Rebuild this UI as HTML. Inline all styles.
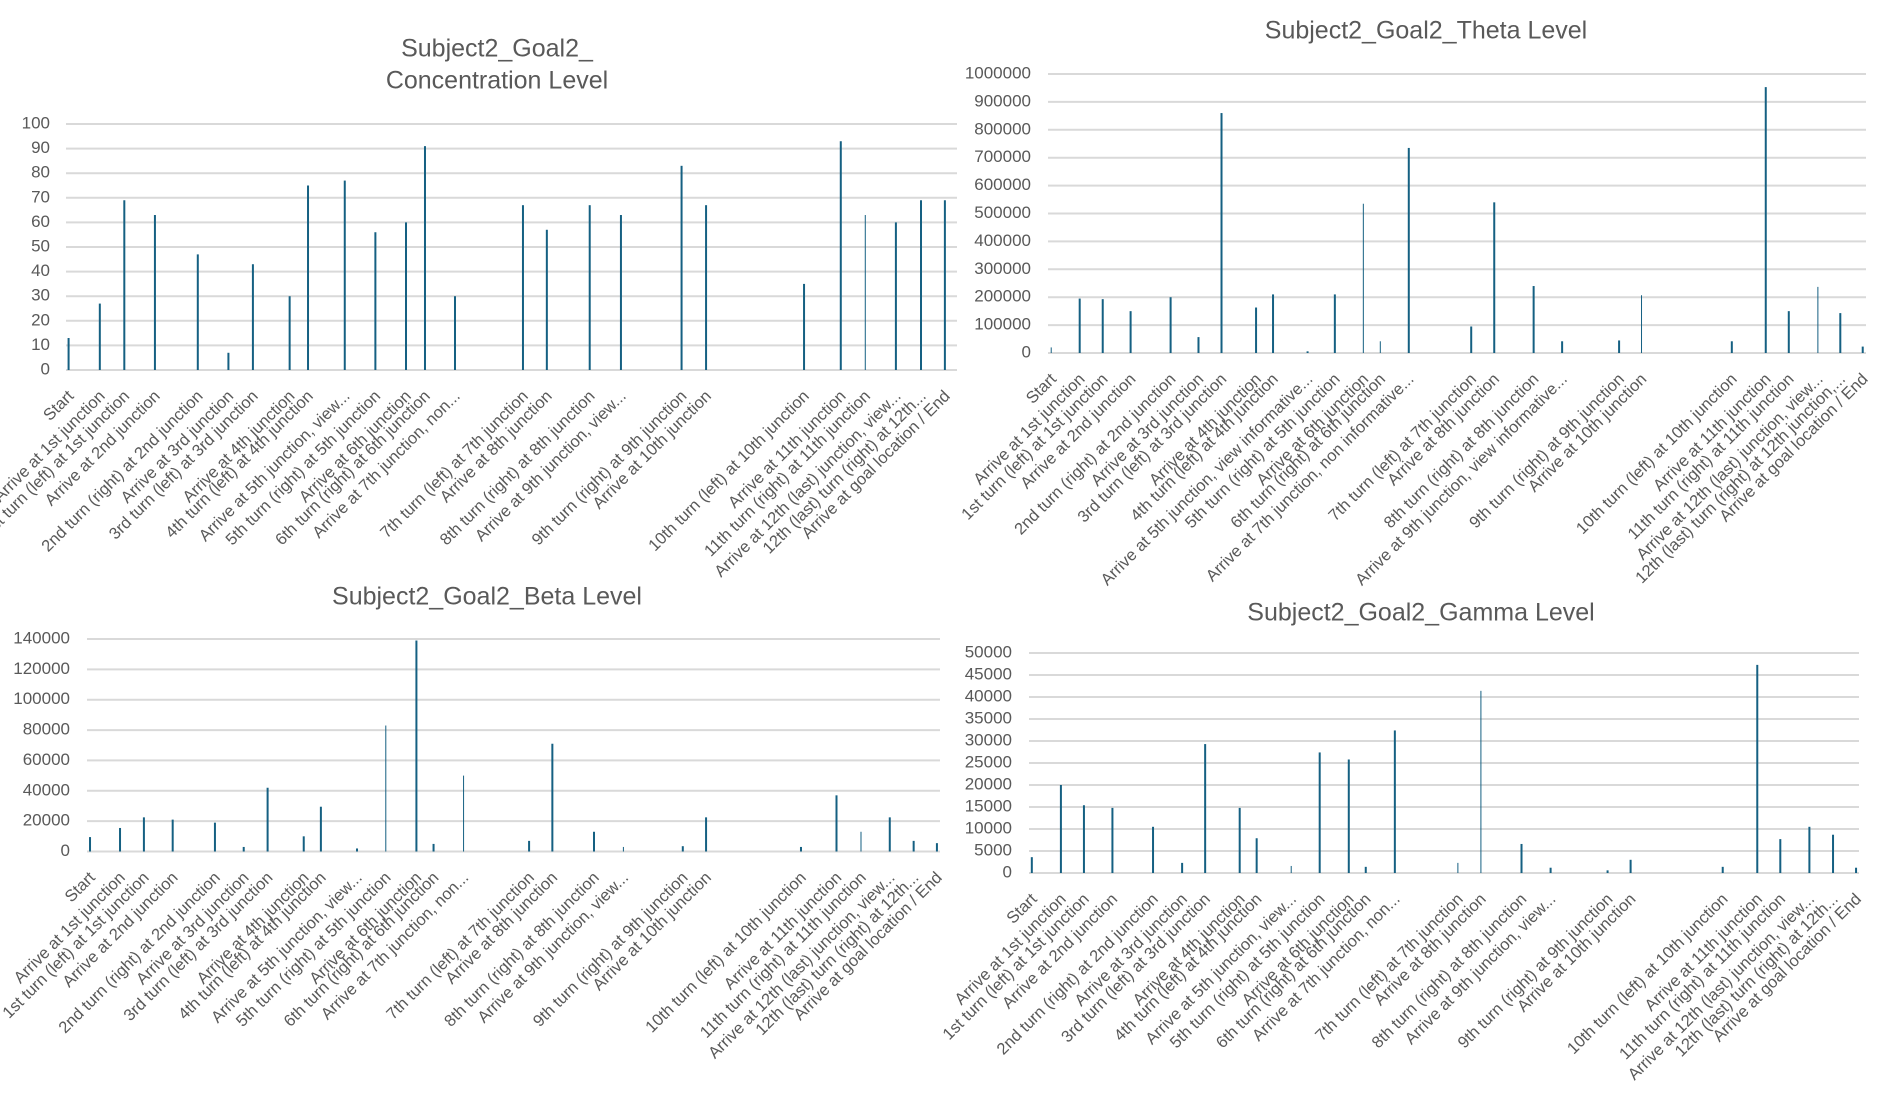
<!DOCTYPE html>
<html><head><meta charset="utf-8">
<style>
html,body{margin:0;padding:0;background:#fff;}
svg{display:block;font-family:"Liberation Sans",sans-serif;}
</style></head>
<body>
<svg id="s" width="1900" height="1094" xmlns="http://www.w3.org/2000/svg"></svg>
<script>
const base=["Start","Arrive at 1st junction","1st turn (left) at 1st junction","Arrive at 2nd junction","2nd turn (right) at 2nd junction","Arrive at 3rd junction","3rd turn (left) at 3rd junction","Arrive at 4th junction","4th turn (left) at 4th junction","Arrive at 5th junction, view...","5th turn (right) at 5th junction","Arrive at 6th junction","6th turn (right) at 6th junction","Arrive at 7th junction, non...","7th turn (left) at 7th junction","Arrive at 8th junction","8th turn (right) at 8th junction","Arrive at 9th junction, view...","9th turn (right) at 9th junction","Arrive at 10th junction","10th turn (left) at 10th junction","Arrive at 11th junction","11th turn (right) at 11th junction","Arrive at 12th (last) junction, view...","12th (last) turn (right) at 12th...","Arrive at goal location / End"];
const theta=base.slice();
theta[9]="Arrive at 5th junction, view informative...";
theta[13]="Arrive at 7th junction, non informative...";
theta[17]="Arrive at 9th junction, view informative...";
theta[24]="12th (last) turn (right) at 12th junction,...";
const charts=[
{title:["Subject2_Goal2_","Concentration Level"],ty:[50,82],tx:497,x0:66,x1:957,y0:370,yTop:124,max:100,step:10,tickR:50,labels:base,
 ox:0,sx:1.633,bars:[[112,13],[163,27],[203,69],[253,63],[323,47],[373,7],[413,43],[473,30],[503,75],[563,77],[613,56],[663,60],[694,91],[743,30],[854,67],[893,57],[963,67],[1014,63],[1113,83],[1153,67],[1313,35],[1373,93],[1413,63,1],[1463,60],[1504,69],[1543,69]]},
{title:["Subject2_Goal2_Theta Level"],ty:[32],tx:1426,x0:1048,x1:1866,y0:353,yTop:74,max:1000000,step:100000,tickR:1031,labels:theta,
 ox:950,sx:1.65,bars:[[167,20000,1],[214,195000],[252,193000],[298,150000],[364,200000],[410,57000],[448,860000],[505,163000],[533,210000],[590,6000],[635,210000],[682,535000,1],[710,42000,1],[757,735000],[860,95000],[898,540000],[963,240000],[1010,42000],[1104,45000],[1141,207000,1],[1290,42000],[1346,953000],[1384,150000],[1432,237000,1],[1469,143000],[1506,23000]]},
{title:["Subject2_Goal2_Beta Level"],ty:[598],tx:487,x0:87,x1:940,y0:851.5,yTop:639,max:140000,step:20000,tickR:70,labels:base,
 ox:0,sx:1.633,bars:[[147,9500],[196,15500],[235,22500],[282,21000],[351,19000],[398,3000],[437,42000],[496,10000],[524,29500],[583,2000],[630,83000,1],[680,139000],[708,5000],[757,50000,1],[864,7000],[902,71000],[970,13000],[1018,3000,1],[1115,3500],[1153,22500],[1308,3000],[1366,37000],[1406,13000,1],[1453,22500],[1492,7000],[1530,5500]]},
{title:["Subject2_Goal2_Gamma Level"],ty:[614],tx:1421,x0:1029,x1:1859,y0:873,yTop:653,max:50000,step:5000,tickR:1012,labels:base,
 ox:950,sx:1.65,bars:[[135,3600],[183,20000],[221,15400],[268,14800],[335,10500],[383,2300],[421,29300],[478,14800],[506,7900],[563,1600,1],[610,27400],[658,25800],[686,1400],[734,32400],[838,2300,1],[876,41400,1],[943,6600],[991,1200],[1085,600],[1123,3000],[1275,1400],[1332,47300],[1370,7700],[1418,10500],[1457,8700],[1495,1200]]}
];
let h="";
for(const c of charts){
  c.title.forEach((t,i)=>{h+=`<text x="${c.tx}" y="${c.ty[i]}" text-anchor="middle" dominant-baseline="middle" font-size="25" fill="#595959">${t}</text>`;});
  const n=c.max/c.step;
  for(let i=0;i<=n;i++){
    const y=c.y0-(c.y0-c.yTop)*i/n;
    h+=`<line x1="${c.x0}" x2="${c.x1}" y1="${y}" y2="${y}" stroke="#d9d9d9" stroke-width="2"/>`;
    h+=`<text x="${c.tickR}" y="${y}" text-anchor="end" dominant-baseline="middle" font-size="17" fill="#595959">${c.step*i}</text>`;
  }
  c.bars.forEach((b,i)=>{
    const x=c.ox+b[0]/c.sx;
    const ht=(c.y0-c.yTop)*b[1]/c.max;
    const w=b[2]?1:2;
    h+=`<rect x="${x-w/2}" y="${c.y0-ht}" width="${w}" height="${ht}" fill="#156082"/>`;
    const lx=x+6, ly=c.y0+27;
    h+=`<text transform="translate(${lx},${ly}) rotate(-45)" text-anchor="end" font-size="16.5" fill="#595959">${c.labels[i]}</text>`;
  });
}
document.getElementById("s").innerHTML=h;
</script>
</body></html>
